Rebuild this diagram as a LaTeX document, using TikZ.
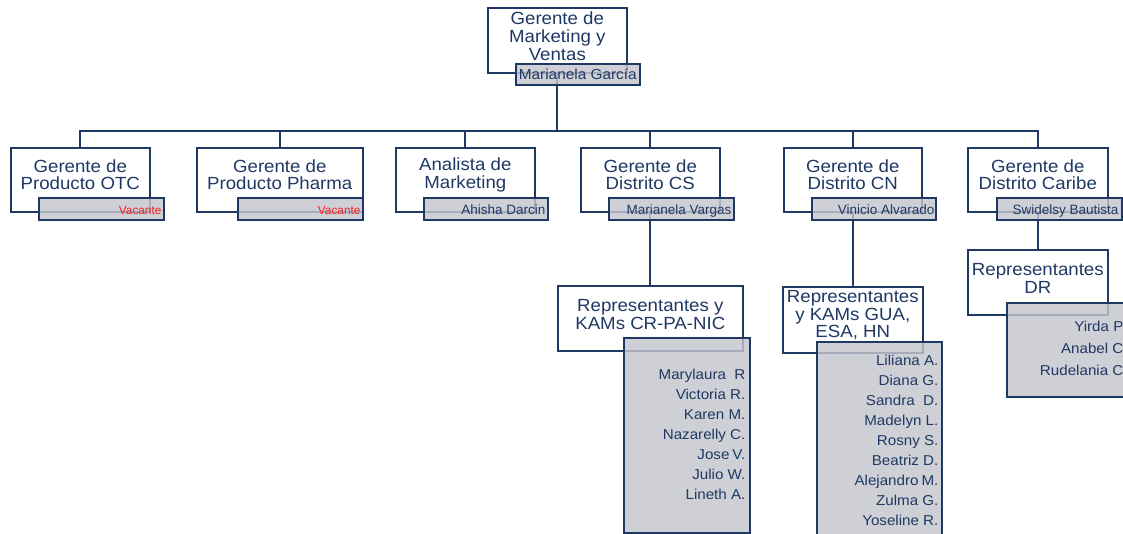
\documentclass[tikz,border=0pt]{standalone}
\usepackage{fontspec}
\setmainfont{Liberation Sans}
\newfontfamily\widesans[FakeStretch=1.06]{Liberation Sans}
\usetikzlibrary{calc,backgrounds}

\definecolor{navy}{RGB}{31,56,100}
\definecolor{tagfill}{RGB}{196,198,206}
\definecolor{vacred}{RGB}{245,30,30}

\tikzset{
  box/.style={draw=navy, line width=1.6pt, fill=white, inner sep=0pt, anchor=north west},
  tag/.style={draw=navy, line width=1.6pt, fill=tagfill, fill opacity=0.82, inner sep=0pt, anchor=north west},
  title/.style={text=navy, align=center, inner sep=0pt, font=\widesans\fontsize{17.6}{17.6}\selectfont},
  who/.style={text=navy, inner sep=0pt, anchor=base east, font=\fontsize{13.5}{14}\selectfont},
  vacant/.style={text=vacred, inner sep=0pt, anchor=base east, font=\fontsize{11.8}{12}\selectfont},
  member/.style={text=navy, inner sep=0pt, anchor=base east, font=\widesans\fontsize{14.3}{15}\selectfont},
  wire/.style={draw=navy, line width=1.9pt}
}

\begin{document}
\begin{tikzpicture}[x=1pt,y=-1pt]
\useasboundingbox (0,0) rectangle (1123,533);

% --- head of the department ---
\node[box, minimum width=139pt, minimum height=65pt] (gm) at (487,7) {};
\node[title] (gmt) at ($(gm.center)+(0,-4)$) {Gerente de\\Marketing y\\Ventas};
\node[tag, minimum width=124pt, minimum height=21pt] (gmn) at (515,63) {};
\node[text=navy, inner sep=0pt, anchor=base, font=\widesans\fontsize{14.5}{15}\selectfont] (gmw) at ($(gmn.south)+(0,-6)$) {Marianela García};

% --- second level boxes ---
\node[box, minimum width=139pt, minimum height=64pt] (b1) at (10,147) {};
\node[box, minimum width=166pt, minimum height=64pt] (b2) at (196,147) {};
\node[box, minimum width=139pt, minimum height=64pt] (b3) at (395,147) {};
\node[box, minimum width=139pt, minimum height=64pt] (b4) at (580,147) {};
\node[box, minimum width=138pt, minimum height=64pt] (b5) at (783,147) {};
\node[box, minimum width=140pt, minimum height=64pt] (b6) at (967,147) {};

\node[title] (b1t) at ($(b1.center)+(0,-5)$) {Gerente de\\Producto OTC};
\node[title] (b2t) at ($(b2.center)+(0,-5)$) {Gerente de\\Producto Pharma};
\node[title] (b3t) at ($(b3.center)+(0,-5)$) {Analista de\\Marketing};
\node[title] (b4t) at ($(b4.center)+(0,-5)$) {Gerente de\\Distrito CS};
\node[title] (b5t) at ($(b5.center)+(0,-5)$) {Gerente de\\Distrito CN};
\node[title] (b6t) at ($(b6.center)+(0,-5)$) {Gerente de\\Distrito Caribe};

% name tags of the second level
\node[tag, minimum width=125pt, minimum height=22pt] (t1) at (38,197) {};
\node[tag, minimum width=125pt, minimum height=22pt] (t2) at (237,197) {};
\node[tag, minimum width=124pt, minimum height=22pt] (t3) at (423,197) {};
\node[tag, minimum width=125pt, minimum height=22pt] (t4) at (608,197) {};
\node[tag, minimum width=124pt, minimum height=22pt] (t5) at (811,197) {};
\node[tag, minimum width=125pt, minimum height=22pt] (t6) at (996,197) {};

\node[vacant] (t1w) at ($(t1.south east)+(-3,-6)$) {Vacante};
\node[vacant] (t2w) at ($(t2.south east)+(-3,-6)$) {Vacante};
\node[who] (t3w) at ($(t3.south east)+(-3,-6)$) {Ahisha Darcin};
\node[who] (t4w) at ($(t4.south east)+(-3,-6)$) {Marianela Vargas};
\node[who] (t5w) at ($(t5.south east)+(-2,-6)$) {Vinicio Alvarado};
\node[who] (t6w) at ($(t6.south east)+(-4,-6)$) {Swidelsy Bautista};

% --- sales representatives ---
\node[box, minimum width=185pt, minimum height=65pt] (r4) at (557,285) {};
\node[box, minimum width=140pt, minimum height=66pt] (r5) at (782,286) {};
\node[box, minimum width=140pt, minimum height=65pt] (r6) at (967,249) {};

\node[title] (r4t) at ($(r4.center)+(0,-4)$) {Representantes y\\KAMs CR-PA-NIC};
\node[title] (r5t) at ($(r5.center)+(0,-4.5)$) {Representantes\\y KAMs GUA,\\ESA, HN};
\node[title] (r6t) at ($(r6.center)+(0,-4)$) {Representantes\\DR};

\node[tag, minimum width=126pt, minimum height=195pt] (l4) at (623,337) {};
\node[tag, minimum width=125pt, minimum height=200pt] (l5) at (816,341) {};
\node[tag, minimum width=130pt, minimum height=94pt] (l6) at (1006,302) {};

\foreach \n [count=\k from 0] in {Marylaura~~R, Victoria R., Karen M., Nazarelly C., Jose\kern3pt V., Julio W., Lineth A.}
  \node[member] at ($(l4.north east)+(-5,42+20*\k)$) {\n};
\foreach \n [count=\k from 0] in {Liliana A., Diana G., Sandra~~D., Madelyn L., Rosny S., Beatriz D., Alejandro\kern3pt M., Zulma G., Yoseline R.}
  \node[member] at ($(l5.north east)+(-4,24+20*\k)$) {\n};
\foreach \n [count=\k from 0] in {Yirda P, Anabel C, Rudelania C}
  \node[member] at ($(l6.north east)+(-14,29+22*\k)$) {\n};

% --- white page and connectors, behind all boxes ---
\begin{scope}[on background layer]
  \fill[white] (0,0) rectangle (1123,533);
  \coordinate (bus) at (gm.south |- {(0,131)});
  \draw[wire] (gm.south) -- (bus);
  \foreach \b in {b1,b2,b3,b4,b5,b6}
    \draw[wire] (\b.north) |- (bus);
  \draw[wire] (b4.south) -- (r4.north);
  \draw[wire] (b5.south) -- (r5.north);
  \draw[wire] (b6.south) -- (r6.north);
\end{scope}
\end{tikzpicture}
\end{document}
